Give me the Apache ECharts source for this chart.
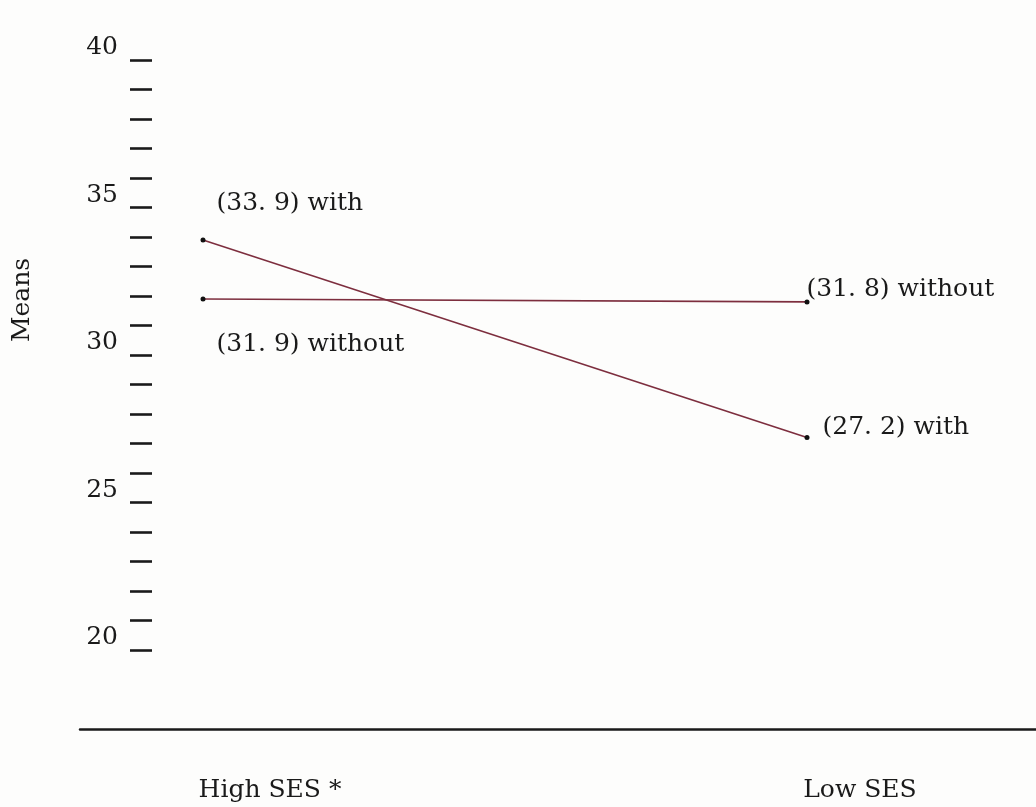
<!DOCTYPE html>
<html>
<head>
<meta charset="utf-8">
<script src="https://cdn.jsdelivr.net/npm/echarts@6/dist/echarts.min.js"></script>
<style>
html,body{margin:0;padding:0;background:#fdfdfc;}
#chart{width:1036px;height:807px;}
</style>
</head>
<body>
<div id="chart"></div>
<script>
var categories = ['High SES *', 'Low SES'];
var withValues = [33.9, 27.2];
var withoutValues = [31.9, 31.8];
var seriesNames = ['with', 'without'];
var yTickLabels = [20, 25, 30, 35, 40];
var yAxisName = 'Means';

var FONT = 'DejaVu Serif';
var FS = 25;
var INK = '#1a1a1a';
var LINE = '#7d2e3e';

function fmt(v, name) {
  return '(' + v.toFixed(1).replace('.', '. ') + ') ' + name;
}

var withLabelOffsets = [[11, -36], [13, -10]];
var withoutLabelOffsets = [[11, 46], [-3, -12]];
var catLabelPads = [134, 106];

function buildData(values, name, offsets) {
  return values.map(function (v, i) {
    return {
      value: v,
      label: {
        show: true,
        position: 'right',
        distance: 0,
        offset: offsets[i],
        formatter: fmt(v, name),
        fontFamily: FONT,
        fontSize: FS,
        color: INK
      }
    };
  });
}

var chart = echarts.init(document.getElementById('chart'), null, {renderer: 'canvas'});
chart.setOption({
  backgroundColor: '#fdfdfc',
  animation: false,
  grid: [
    {left: 203, right: 229, top: 60, bottom: 157, outerBoundsMode: 'none', containLabel: false},
    {left: 80, right: 0, top: 728, height: 1, outerBoundsMode: 'none', containLabel: false}
  ],
  xAxis: [
    {
      gridIndex: 0,
      type: 'category',
      data: categories,
      boundaryGap: false,
      axisLine: {show: false},
      axisTick: {show: false},
      splitLine: {show: false},
      axisLabel: {
        margin: 128,
        fontFamily: FONT,
        fontSize: FS,
        color: INK,
        formatter: function (v, i) {
          return '{c' + i + '|' + v + '}';
        },
        rich: {
          c0: {fontFamily: FONT, fontSize: FS, color: INK, padding: [0, 0, 0, catLabelPads[0]]},
          c1: {fontFamily: FONT, fontSize: FS, color: INK, padding: [0, 0, 0, catLabelPads[1]]}
        }
      }
    },
    {
      gridIndex: 1,
      type: 'value',
      min: 0, max: 1,
      axisLine: {show: true, lineStyle: {color: INK, width: 2.5}},
      axisTick: {show: false},
      axisLabel: {show: false},
      splitLine: {show: false}
    }
  ],
  yAxis: [
    {
      gridIndex: 0,
      type: 'value',
      min: 20,
      max: 40,
      interval: 1,
      offset: 51,
      name: yAxisName,
      nameLocation: 'middle',
      nameRotate: 90,
      nameGap: 117,
      nameTextStyle: {fontFamily: FONT, fontSize: FS, color: INK, padding: [0, 0, 0, 110]},
      axisLine: {show: false},
      axisTick: {show: true, length: 22, lineStyle: {color: INK, width: 2.6}},
      splitLine: {show: false},
      axisLabel: {
        margin: 34,
        fontFamily: FONT,
        fontSize: FS,
        color: INK,
        verticalAlign: 'bottom',
        formatter: function (v) {
          return yTickLabels.indexOf(v) >= 0 ? String(v) : '';
        }
      }
    },
    {
      gridIndex: 1,
      type: 'value',
      show: false
    }
  ],
  series: [
    {
      name: seriesNames[0],
      type: 'line',
      xAxisIndex: 0,
      yAxisIndex: 0,
      data: buildData(withValues, seriesNames[0], withLabelOffsets),
      symbol: 'circle',
      symbolSize: 5,
      itemStyle: {color: '#111'},
      lineStyle: {color: LINE, width: 1.6}
    },
    {
      name: seriesNames[1],
      type: 'line',
      xAxisIndex: 0,
      yAxisIndex: 0,
      data: buildData(withoutValues, seriesNames[1], withoutLabelOffsets),
      symbol: 'circle',
      symbolSize: 5,
      itemStyle: {color: '#111'},
      lineStyle: {color: LINE, width: 1.6}
    }
  ]
});
</script>
</body>
</html>
